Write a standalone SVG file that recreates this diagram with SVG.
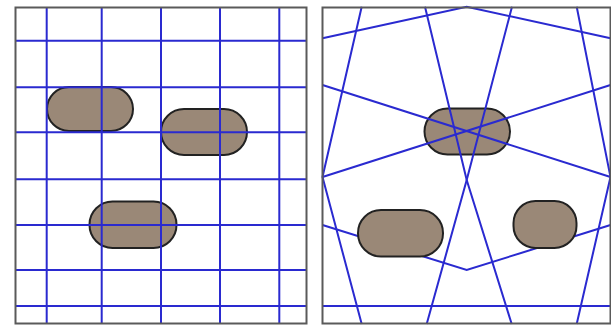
<svg xmlns="http://www.w3.org/2000/svg" width="611" height="325" viewBox="0 0 611 325">
  <style>
    .frame { fill: none; stroke: #5a5a5a; stroke-width: 2; }
    .beam { fill: none; stroke: #2a2ad0; stroke-width: 2; stroke-linejoin: miter; }
    .pill { fill: #9a8877; stroke: #222222; stroke-width: 2; }
  </style>
  <rect width="611" height="325" fill="#ffffff"/>

  <!-- Left panel: regular grid -->
  <g id="left-panel">
    <g id="left-pills">
      <rect id="lp1" class="pill" x="47" y="87" width="86" height="44" rx="22"/>
      <rect id="lp2" class="pill" x="161" y="109" width="86" height="46" rx="23"/>
      <rect id="lp3" class="pill" x="89.5" y="201.5" width="87" height="46.5" rx="23"/>
    </g>
    <g id="left-grid" class="beam">
      <line x1="46.7" y1="7" x2="46.7" y2="324"/>
      <line x1="101.7" y1="7" x2="101.7" y2="324"/>
      <line x1="161" y1="7" x2="161" y2="324"/>
      <line x1="220" y1="7" x2="220" y2="324"/>
      <line x1="279.3" y1="7" x2="279.3" y2="324"/>
      <line x1="15" y1="40.7" x2="306" y2="40.7"/>
      <line x1="15" y1="87.3" x2="306" y2="87.3"/>
      <line x1="15" y1="132.3" x2="306" y2="132.3"/>
      <line x1="15" y1="179.3" x2="306" y2="179.3"/>
      <line x1="15" y1="225" x2="306" y2="225"/>
      <line x1="15" y1="270" x2="306" y2="270"/>
      <line x1="15" y1="306" x2="306" y2="306"/>
    </g>
    <rect class="frame" x="15.5" y="7.5" width="291" height="316"/>
  </g>

  <!-- Right panel: adaptive lines -->
  <g id="right-panel">
    <g id="right-under" class="beam">
      <polyline points="322.5,225 466.7,270 610.5,225"/>
    </g>
    <g id="right-pills">
      <rect id="rc" class="pill" x="424.5" y="108.5" width="85.5" height="46" rx="23"/>
      <rect id="rbl" class="pill" x="358" y="210" width="85" height="46.5" rx="23"/>
      <rect id="rbr" class="pill" x="513.5" y="201" width="63" height="47" rx="22"/>
    </g>
    <g id="right-lines" class="beam">
      <polyline points="322.5,38.3 466.7,6.7 610.5,38.3"/>
      <polyline points="361.7,6.7 322.5,177 361.7,324"/>
      <polyline points="576.7,6.7 610.5,177 576.7,324"/>
      <line x1="322.5" y1="177" x2="610.5" y2="85"/>
      <line x1="322.5" y1="85" x2="610.5" y2="177"/>
      <polyline points="425,6.7 466.7,180 511.7,324"/>
      <polyline points="512,6.7 466.7,180 426.7,324"/>
      <line x1="322.5" y1="306" x2="611" y2="306"/>
    </g>
    <rect class="frame" x="322.5" y="7.5" width="288" height="316"/>
  </g>
</svg>
